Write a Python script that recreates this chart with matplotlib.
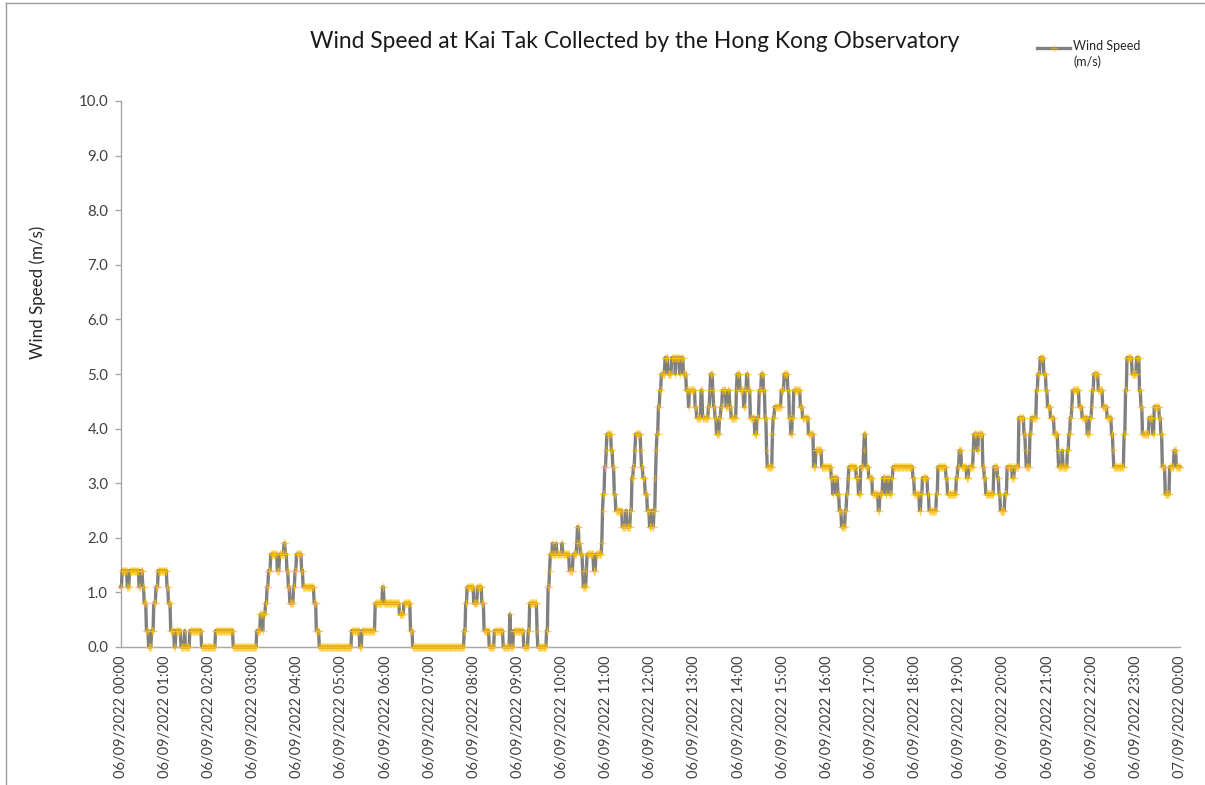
import numpy as np
import pandas as pd
import matplotlib
matplotlib.use("Agg")
import matplotlib.pyplot as plt
from matplotlib.lines import Line2D

plt.rcParams['font.family'] = ['Lato', 'DejaVu Sans']

# wind speed (m/s) at the minute where it changes,
# the reading stays the same until the next change (1-minute data, 06/09/2022)
night = [(0, 1.1), (2, 1.4), (9, 1.1), (12, 1.4), (25, 1.1), (27, 1.4), (30, 1.1), (32, 0.8),
         (35, 0.3), (38, 0.0), (42, 0.3), (45, 0.8), (48, 1.1), (51, 1.4), (63, 1.1), (65, 0.8),
         (68, 0.3), (73, 0.0), (75, 0.3), (82, 0.0), (87, 0.3), (88, 0.0), (94, 0.3), (110, 0.0),
         (129, 0.3), (153, 0.0), (185, 0.3), (190, 0.6), (193, 0.3), (194, 0.6), (197, 0.8),
         (199, 1.1), (201, 1.4), (204, 1.7), (213, 1.4), (216, 1.7), (222, 1.9), (224, 1.7),
         (226, 1.4), (228, 1.1), (230, 0.8)]
early_morning = [(235, 1.1), (237, 1.4), (239, 1.7), (246, 1.4), (248, 1.1), (263, 0.8), (266, 0.3),
                 (270, 0.0), (314, 0.3), (325, 0.0), (328, 0.3), (346, 0.8), (356, 1.1), (358, 0.8),
                 (379, 0.6), (385, 0.8), (394, 0.3), (397, 0.0), (467, 0.3), (469, 0.8), (471, 1.1)]
morning = [(480, 0.8), (485, 1.1), (491, 0.8), (494, 0.3), (501, 0.0), (508, 0.3), (520, 0.0),
           (529, 0.6), (530, 0.0), (534, 0.3), (548, 0.0), (554, 0.3), (556, 0.8), (566, 0.3),
           (567, 0.0), (579, 0.3), (581, 1.1), (583, 1.4), (584, 1.7), (587, 1.9), (588, 1.7),
           (592, 1.9), (593, 1.7), (600, 1.9), (601, 1.7), (610, 1.4), (615, 1.7), (620, 1.9),
           (621, 2.2), (623, 1.9), (625, 1.7), (628, 1.4), (629, 1.1), (633, 1.4), (634, 1.7),
           (643, 1.4), (646, 1.7), (654, 1.9), (655, 2.5), (656, 2.8), (658, 3.3), (660, 3.6),
           (661, 3.9), (667, 3.6), (669, 3.3), (671, 2.8), (673, 2.5), (682, 2.2), (687, 2.5),
           (688, 2.2), (693, 2.5), (695, 3.1), (697, 3.3), (699, 3.6), (700, 3.9), (707, 3.6),
           (708, 3.3), (710, 3.1), (713, 2.8), (716, 2.5), (719, 2.2)]
midday = [(722, 2.5), (723, 2.2), (725, 2.5), (727, 3.1), (728, 3.6), (729, 3.9), (731, 4.4),
          (733, 4.7), (735, 5.0), (740, 5.3), (744, 5.0), (749, 5.3), (754, 5.0), (755, 5.3),
          (760, 5.0), (761, 5.3), (765, 5.0), (769, 4.7), (772, 4.4), (773, 4.7), (781, 4.4),
          (783, 4.2), (789, 4.7), (791, 4.2), (799, 4.4), (801, 4.7), (802, 5.0), (805, 4.7),
          (806, 4.4), (808, 4.2), (810, 3.9), (814, 4.2), (816, 4.4), (818, 4.7), (823, 4.4),
          (826, 4.7), (828, 4.4), (830, 4.2), (837, 4.7), (838, 5.0), (842, 4.7), (847, 4.4),
          (849, 4.7), (851, 5.0), (853, 4.7), (856, 4.2), (862, 3.9), (865, 4.2), (868, 4.7),
          (871, 5.0), (874, 4.7), (876, 4.2), (878, 3.6), (879, 3.3), (886, 3.9), (887, 4.2),
          (889, 4.4), (898, 4.7), (902, 5.0), (907, 4.7), (909, 4.2), (911, 3.9), (913, 4.2),
          (915, 4.7), (924, 4.4), (927, 4.2), (935, 3.9), (942, 3.3), (945, 3.6), (953, 3.3)]
afternoon = [(966, 3.1), (968, 2.8), (969, 3.1), (973, 2.8), (974, 3.1), (975, 2.8), (977, 2.5),
             (980, 2.2), (985, 2.5), (987, 2.8), (989, 3.1), (990, 3.3), (1000, 3.1), (1003, 2.8),
             (1006, 3.3), (1010, 3.6), (1011, 3.9), (1013, 3.3), (1017, 3.1), (1022, 2.8),
             (1030, 2.5), (1032, 2.8), (1036, 3.1), (1040, 2.8), (1042, 3.1), (1045, 2.8),
             (1048, 3.1), (1050, 3.3), (1077, 3.1), (1079, 2.8), (1086, 2.5), (1088, 2.8),
             (1090, 3.1), (1097, 2.8), (1099, 2.5), (1109, 2.8), (1111, 3.3), (1122, 3.1),
             (1124, 2.8), (1136, 3.1), (1138, 3.3), (1140, 3.6), (1143, 3.3), (1150, 3.1),
             (1153, 3.3), (1159, 3.6), (1160, 3.9), (1164, 3.6), (1166, 3.9), (1172, 3.3),
             (1174, 3.1), (1176, 2.8), (1187, 3.3), (1192, 3.1), (1194, 2.8), (1196, 2.5)]
evening = [(1202, 2.8), (1205, 3.3), (1212, 3.1), (1215, 3.3), (1221, 4.2), (1228, 3.9), (1230, 3.6),
           (1231, 3.3), (1236, 3.9), (1238, 4.2), (1245, 4.7), (1247, 5.0), (1250, 5.3), (1255, 5.0),
           (1258, 4.7), (1260, 4.4), (1264, 4.2), (1269, 3.9), (1274, 3.6), (1275, 3.3), (1280, 3.6),
           (1281, 3.3), (1287, 3.6), (1289, 3.9), (1291, 4.2), (1293, 4.4), (1294, 4.7), (1303, 4.4),
           (1307, 4.2), (1314, 3.9), (1317, 4.2), (1320, 4.4), (1321, 4.7), (1323, 5.0), (1329, 4.7),
           (1335, 4.4), (1341, 4.2), (1347, 3.9), (1349, 3.6), (1350, 3.3), (1364, 3.9), (1366, 4.7),
           (1368, 5.3), (1375, 5.0), (1381, 5.3), (1385, 4.7), (1387, 4.4), (1389, 3.9), (1398, 4.2),
           (1403, 3.9), (1405, 4.4), (1412, 4.2), (1414, 3.9), (1416, 3.3), (1420, 2.8), (1426, 3.3),
           (1432, 3.6), (1435, 3.3)]

y_ticks = [0.0, 1.0, 2.0, 3.0, 4.0, 5.0, 6.0, 7.0, 8.0, 9.0, 10.0]
hour_labels = list(pd.date_range("2022-09-06 00:00", periods=25, freq="h").strftime("%d/%m/%Y %H:%M"))

readings = night + early_morning + morning + midday + afternoon + evening
change_min = np.array([r[0] for r in readings])
change_val = np.array([r[1] for r in readings])
minutes = np.arange(0, 1441)
speed = change_val[np.searchsorted(change_min, minutes, side="right") - 1]

W, H = 1205, 785
fig = plt.figure(figsize=(W / 100, H / 100), dpi=100)
ax = fig.add_axes([120.7 / W, 1 - 647 / H, (1180 - 120.7) / W, (647 - 101) / H])

axis_grey = "#A6A6A6"
ax.plot(minutes, speed, color="#808080", lw=2.4, marker="+", ms=5.5,
        mec=(1.0, 0.75, 0.0, 0.5), mew=0.9, clip_on=False, zorder=3)

ax.set_xlim(0, 1440)
ax.set_ylim(0, 10)
ax.set_yticks(y_ticks)
ax.set_yticklabels(["%.1f" % v for v in y_ticks])
ax.set_xticks(np.arange(0, 1441, 60))
ax.set_xticklabels(hour_labels, rotation=90)
ax.tick_params(axis="x", length=0, pad=6, labelsize=10.5, colors="#404040")
ax.tick_params(axis="y", length=4, width=1, pad=5, labelsize=10.8, colors="#404040")
ax.tick_params(axis="both", color=axis_grey)
for s in ["top", "right"]:
    ax.spines[s].set_visible(False)
for s in ["left", "bottom"]:
    ax.spines[s].set_color(axis_grey)
    ax.spines[s].set_linewidth(1)

fig.text(635 / W, 1 - 42 / H, "Wind Speed at Kai Tak Collected by the Hong Kong Observatory",
         ha="center", va="center", fontsize=16.4, color="#1a1a1a")
fig.text(38 / W, 1 - 292 / H, "Wind Speed (m/s)", rotation=90, ha="center", va="center",
         fontsize=12.2, color="#262626")

# legend at top right
fig.add_artist(Line2D([1037 / W, 1070 / W], [1 - 48 / H] * 2, transform=fig.transFigure,
                      color="#808080", lw=2.4))
fig.add_artist(Line2D([1053.5 / W], [1 - 48 / H], transform=fig.transFigure, marker="+",
                      ms=5.5, mec=(1.0, 0.75, 0.0, 0.5), mew=0.9, ls="none"))
fig.text(1073 / W, 1 - 40 / H, "Wind Speed\n(m/s)", ha="left", va="top", fontsize=9,
         color="#262626", linespacing=1.35)

# chart border
border = "#9A9A9A"
fig.add_artist(Line2D([6 / W, 1], [1 - 3 / H] * 2, transform=fig.transFigure, color=border, lw=1))
fig.add_artist(Line2D([6 / W] * 2, [0, 1 - 3 / H], transform=fig.transFigure, color=border, lw=1))

fig.savefig("out.png", dpi=100)
